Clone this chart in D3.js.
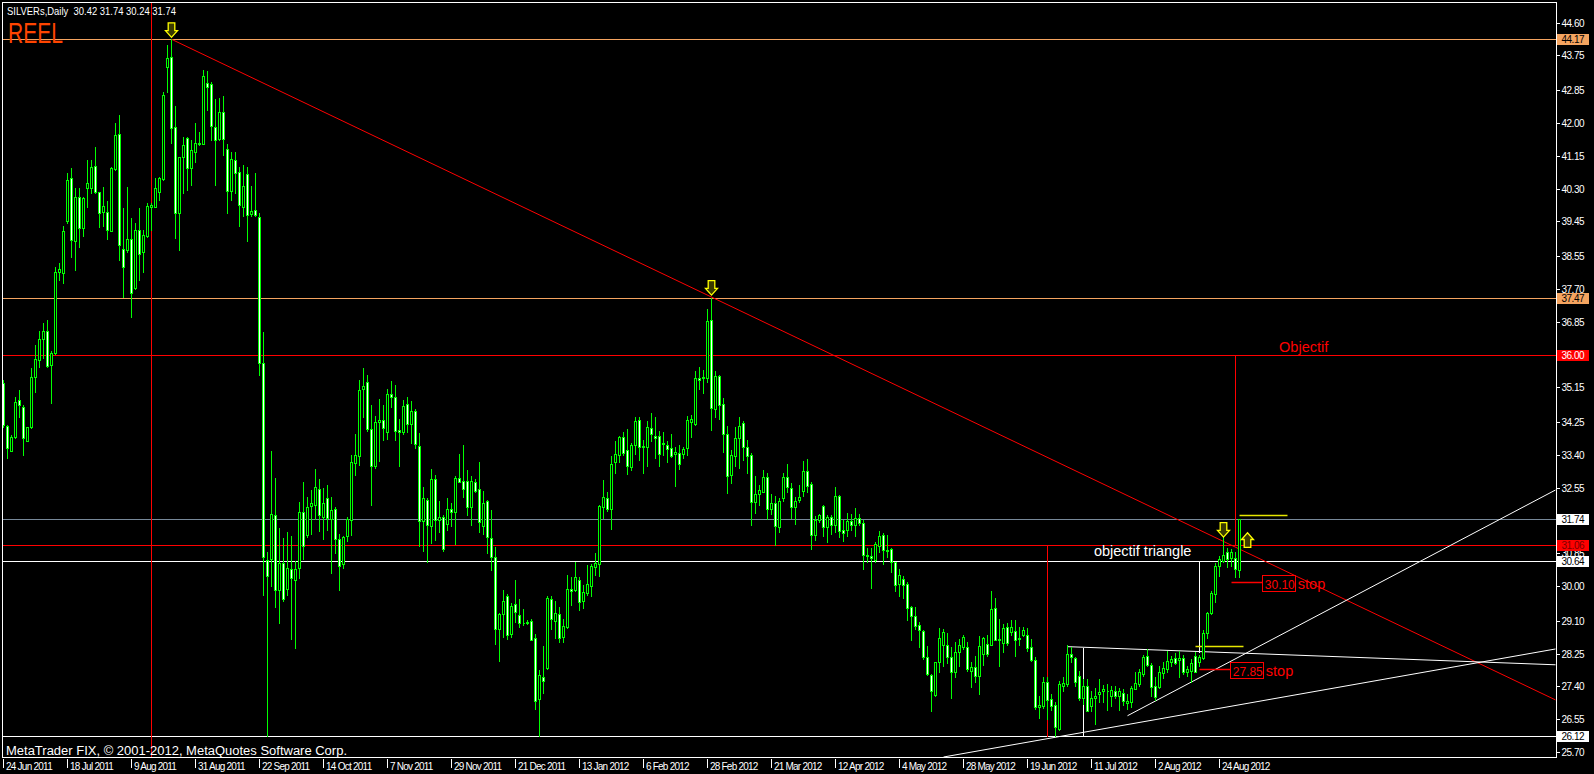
<!DOCTYPE html>
<html>
<head>
<meta charset="utf-8">
<script src="https://cdn.jsdelivr.net/npm/d3@7"></script>
<style>
    html, body { margin: 0; padding: 0; background: #000; overflow: hidden; }
    svg { display: block; }
    text { font-family: "Liberation Sans", Arial, sans-serif; }
</style>
</head>
<body>
<svg id="chart" width="1594" height="774"></svg>
<script>

// Daily bars, bar 0 = 24 Jun 2011, last bar = 31 Aug 2012
var opens = [
    35.26,34.16,33.51,33.87,34.82,34.63,33.77,34.12,35.41,35.86,
    36.40,36.60,35.73,36.05,38.15,38.12,39.45,40.57,38.95,40.08,
    39.29,40.31,40.31,40.89,40.20,39.69,39.70,39.21,40.80,41.72,
    38.73,38.71,38.99,37.72,39.23,38.67,39.06,39.82,39.83,40.20,
    40.55,43.46,43.70,41.89,39.66,41.11,41.61,40.83,41.26,41.49,
    41.46,43.03,43.01,41.89,41.58,42.28,41.32,40.25,41.03,40.72,
    39.83,40.68,39.64,39.75,39.56,35.79,30.68,30.70,31.85,29.89,
    30.60,29.93,30.43,30.16,30.48,31.92,31.32,32.08,32.10,32.52,
    31.80,32.27,31.75,32.00,31.22,30.56,31.30,31.72,33.19,33.37,
    35.10,35.30,34.08,33.11,34.26,34.30,34.00,34.97,34.90,34.05,
    34.00,34.73,34.20,34.53,33.63,31.68,32.24,31.55,32.77,31.70,
    31.78,31.62,32.00,31.92,32.79,32.72,32.73,32.05,32.71,32.51,
    31.55,32.21,31.25,30.75,28.90,29.27,29.73,28.77,29.54,29.25,
    29.05,29.04,29.10,28.65,27.07,27.64,27.87,29.66,29.10,29.27,
    28.67,28.93,29.93,29.90,30.16,29.62,29.81,30.01,30.49,30.57,
    32.04,32.27,32.01,33.22,33.40,33.86,33.52,33.09,33.66,34.30,
    33.61,33.60,34.10,33.89,33.89,33.67,33.66,33.57,33.42,33.45,
    33.42,33.57,34.24,34.19,35.38,35.39,35.38,36.90,34.58,35.45,
    34.71,33.94,32.88,33.38,33.83,34.22,33.60,33.40,32.17,32.38,
    32.45,32.82,32.00,32.15,31.54,32.27,32.82,32.53,32.04,32.23,
    32.46,32.97,32.65,31.33,31.70,32.07,31.52,31.78,31.57,32.33,
    31.45,31.46,31.69,31.58,31.76,31.63,30.81,30.79,30.68,31.05,
    31.32,30.94,30.96,30.62,30.05,30.18,30.05,29.45,29.22,28.98,
    28.83,28.16,27.70,27.19,28.03,28.46,28.47,28.16,27.77,28.28,
    28.41,28.41,27.81,27.89,27.66,28.24,28.50,28.47,29.42,28.59,
    28.52,28.93,28.80,28.83,28.63,28.74,28.72,28.41,28.09,26.86,
    26.89,27.51,27.08,26.92,26.30,27.42,27.46,28.24,28.13,27.66,
    27.09,27.40,26.89,27.11,27.20,27.29,27.29,27.14,27.27,27.16,
    27.23,26.97,26.99,27.33,27.46,27.72,28.18,27.96,27.40,27.38,
    27.75,27.85,28.03,28.13,28.09,28.13,27.78,27.81,28.20,28.03,
    28.13,28.79,29.30,29.80,30.51,30.66,30.88,30.72,30.72,30.42
];
var highs = [
    35.34,34.18,33.92,34.91,35.08,34.69,34.13,35.65,36.25,36.62,
    36.81,36.90,36.08,38.28,38.37,39.32,40.70,40.83,40.31,40.31,
    40.09,41.03,41.04,41.39,40.22,40.34,39.99,40.87,41.99,42.21,
    39.79,40.33,39.53,39.40,39.79,39.23,39.94,39.94,40.57,40.61,
    42.81,44.02,44.17,42.43,41.13,41.65,41.65,41.56,42.01,41.78,
    43.38,43.36,43.07,42.63,42.64,42.69,41.46,41.26,41.26,40.87,
    40.91,40.87,40.37,40.70,39.66,36.58,30.88,33.51,32.81,31.50,
    31.25,31.40,31.30,30.66,32.17,32.71,32.31,32.49,33.04,32.77,
    32.54,32.62,32.31,32.05,31.35,31.30,31.80,33.39,33.93,35.35,
    35.65,35.47,34.70,34.40,34.86,34.68,35.12,35.32,35.22,34.32,
    34.83,34.90,34.80,34.60,33.96,32.57,32.29,33.04,32.87,32.21,
    31.85,32.29,32.15,32.84,33.41,33.66,33.01,32.84,32.77,33.21,
    32.47,32.24,31.98,31.00,29.30,29.91,29.79,29.56,30.17,29.66,
    29.40,29.12,29.15,28.76,27.82,28.45,29.73,29.73,29.61,29.47,
    29.14,30.29,30.24,30.63,30.24,30.03,30.55,30.57,30.85,32.10,
    32.75,32.45,33.37,33.76,33.90,34.00,34.07,33.70,34.39,34.39,
    33.79,34.29,34.49,34.39,34.03,34.00,33.77,33.94,33.61,33.66,
    33.61,34.41,34.43,35.57,35.67,35.60,37.17,37.47,35.58,35.47,
    34.87,34.15,33.53,34.13,34.39,34.29,33.79,33.44,32.84,32.62,
    33.01,32.94,32.39,32.33,32.27,32.93,33.17,32.67,32.30,32.62,
    33.23,33.29,32.71,31.81,31.87,32.10,31.83,31.83,32.56,32.36,
    31.70,31.89,31.87,32.03,31.87,31.72,30.98,30.99,31.13,31.44,
    31.38,31.32,30.98,30.63,30.43,30.25,30.11,29.49,29.45,29.08,
    28.85,28.44,27.72,28.04,28.91,28.89,28.79,28.41,28.56,28.63,
    28.73,28.54,28.03,28.20,28.70,28.67,28.72,29.86,29.68,29.15,
    29.02,29.04,29.13,29.11,28.93,28.93,28.91,28.63,28.15,27.16,
    27.64,27.64,27.21,26.99,27.55,27.64,28.46,28.41,28.15,27.81,
    27.59,27.59,27.29,27.35,27.58,27.44,27.46,27.42,27.42,27.35,
    27.33,27.21,27.40,27.78,27.85,28.22,28.37,28.01,27.64,27.94,
    28.03,28.33,28.20,28.27,28.33,28.22,27.94,28.11,28.30,28.22,
    28.85,29.34,29.86,30.60,30.79,31.31,30.98,30.96,30.88,31.74
];
var lows = [
    34.13,33.31,33.49,33.83,34.39,33.40,33.75,34.09,35.04,35.69,
    35.90,35.69,34.74,36.02,37.93,37.85,39.40,38.54,38.19,38.80,
    39.06,39.82,40.18,40.18,39.30,39.32,38.99,39.19,40.78,38.45,
    37.50,38.67,36.97,37.69,37.93,38.15,39.04,39.23,39.82,40.01,
    40.53,42.81,41.48,39.01,38.71,40.18,40.27,40.40,41.00,41.43,
    41.46,42.34,41.56,40.40,41.56,41.17,39.66,40.01,40.18,39.32,
    39.58,38.93,39.59,39.59,35.47,29.76,26.12,30.01,29.46,29.04,
    29.61,29.76,28.62,28.40,30.21,30.69,31.28,31.35,31.75,31.42,
    31.22,31.45,30.33,30.85,29.91,30.46,31.18,31.32,32.87,33.14,
    34.38,34.03,32.09,33.07,33.24,33.78,33.80,34.63,33.78,33.11,
    33.93,33.98,33.70,33.58,31.05,30.90,30.63,31.12,31.20,31.40,
    30.92,31.45,31.55,31.10,32.69,32.31,31.85,31.58,32.44,31.40,
    31.35,30.85,30.41,28.50,28.07,28.67,28.64,28.67,29.08,28.95,
    28.99,29.02,28.59,26.81,26.12,27.22,27.84,28.88,28.66,28.56,
    28.56,28.91,29.51,29.86,29.38,29.42,29.77,29.73,30.29,30.26,
    31.76,31.95,31.47,32.92,33.22,33.40,32.90,33.01,33.42,33.27,
    32.94,33.11,33.77,33.31,33.11,33.40,33.22,33.34,32.59,33.03,
    33.31,33.40,33.87,34.17,35.12,35.01,35.30,34.05,34.37,34.32,
    33.48,32.42,32.68,33.11,33.05,33.27,32.94,31.57,31.90,32.10,
    32.45,31.73,31.87,31.07,31.41,32.21,32.45,31.76,31.61,32.17,
    32.33,32.45,30.96,31.20,31.65,31.31,31.15,31.35,31.41,31.26,
    31.18,31.31,31.46,31.31,31.58,30.44,30.62,29.94,30.62,30.89,
    30.56,30.75,30.37,29.86,29.75,29.68,29.11,28.59,28.89,28.41,
    28.11,27.70,26.75,27.16,27.78,27.94,28.01,27.09,27.64,27.94,
    28.37,27.81,27.38,27.52,27.20,27.96,28.20,28.46,28.59,27.94,
    28.28,28.47,28.72,28.18,28.46,28.70,28.33,28.07,26.82,26.57,
    26.83,26.56,26.80,26.12,26.28,27.29,27.42,28.03,27.42,27.06,
    26.95,26.75,26.77,26.43,26.99,26.99,26.80,26.90,27.09,26.80,
    26.92,26.82,26.86,27.32,27.42,27.68,27.92,27.14,27.06,27.35,
    27.61,27.78,27.94,27.98,27.64,27.72,27.66,27.51,27.77,27.92,
    28.11,28.65,29.28,29.58,30.27,30.63,30.49,30.53,30.23,30.24
];
var closes = [
    34.18,33.57,33.86,34.76,34.68,33.83,34.11,35.43,35.88,36.40,
    36.62,35.70,36.03,38.15,38.21,39.19,40.53,38.97,40.08,39.27,
    40.05,40.44,40.85,40.20,39.68,39.85,39.23,40.83,41.69,38.84,
    38.28,38.99,37.59,39.23,38.61,39.09,39.85,39.88,40.31,40.57,
    42.73,43.68,41.86,39.66,41.11,41.43,40.83,41.30,41.49,41.46,
    43.23,42.93,41.91,41.56,42.28,41.58,40.25,41.06,40.70,39.88,
    40.37,39.62,39.73,39.62,35.77,30.75,30.26,31.88,29.91,30.59,
    29.66,30.48,30.21,30.45,31.92,31.05,32.05,32.15,32.57,31.83,
    32.15,31.77,31.97,31.22,30.53,31.28,31.73,33.21,33.39,35.09,
    35.19,34.08,33.11,34.26,34.30,34.10,34.97,34.90,34.03,34.00,
    34.66,34.20,34.55,33.68,31.68,32.27,31.58,32.77,31.70,31.78,
    30.95,32.00,31.92,32.79,32.71,32.51,32.05,32.73,32.47,31.65,
    32.15,31.28,30.75,28.90,29.27,29.61,28.74,29.49,29.34,29.05,
    29.04,29.07,28.60,27.03,27.70,27.55,29.68,29.14,29.31,28.65,
    28.97,29.93,29.86,30.23,29.60,29.84,30.05,30.52,30.61,32.08,
    32.30,31.99,33.16,33.42,33.87,33.44,33.12,33.66,34.28,33.60,
    33.63,34.13,33.93,33.85,33.41,33.70,33.54,33.38,33.47,33.16,
    33.54,34.30,34.33,35.38,35.33,35.41,36.87,34.61,35.44,34.69,
    33.93,32.84,33.40,33.83,34.15,33.60,33.38,32.17,32.39,32.49,
    32.82,31.99,32.15,31.55,32.21,32.82,32.56,32.04,32.20,32.32,
    32.97,32.60,31.33,31.71,31.84,31.54,31.78,31.57,32.34,31.44,
    31.38,31.68,31.57,31.76,31.63,30.81,30.79,30.72,31.09,31.31,
    30.94,30.92,30.62,30.04,30.29,30.04,29.42,29.22,28.97,28.87,
    28.16,27.72,27.27,28.03,28.65,28.80,28.16,27.78,28.28,28.47,
    28.67,27.85,27.89,27.68,28.44,28.65,28.24,29.41,28.61,28.63,
    28.91,28.52,28.93,28.61,28.66,28.86,28.39,28.09,26.86,26.92,
    27.51,27.06,26.90,26.34,27.46,27.49,28.24,28.15,27.51,27.09,
    27.42,26.77,27.09,27.14,27.25,27.32,27.27,27.31,27.14,27.29,
    27.01,27.03,27.35,27.49,27.77,28.15,27.96,27.38,27.12,27.77,
    27.87,28.07,28.11,28.01,28.13,27.78,27.85,28.01,27.78,28.15,
    28.79,29.30,29.82,30.53,30.69,30.81,30.70,30.88,30.43,31.74
];

// Time axis labels (one every 16 bars)
var dateLabels = ["24 Jun 2011", "18 Jul 2011", "9 Aug 2011", "31 Aug 2011", "22 Sep 2011",
    "14 Oct 2011", "7 Nov 2011", "29 Nov 2011", "21 Dec 2011", "13 Jan 2012",
    "6 Feb 2012", "28 Feb 2012", "21 Mar 2012", "12 Apr 2012", "4 May 2012",
    "28 May 2012", "19 Jun 2012", "11 Jul 2012", "2 Aug 2012", "24 Aug 2012"];
var dateLabelBars = [0, 16, 32, 48, 64, 80, 96, 112, 128, 144, 160, 176, 192, 208, 224, 240, 256, 272, 288, 304];

// Price scale ticks
var priceTicks = [44.60, 43.75, 42.85, 42.00, 41.15, 40.30, 39.45, 38.55, 37.70, 36.85, 36.00,
    35.15, 34.25, 33.40, 32.55, 30.85, 30.00, 29.10, 28.25, 27.40, 26.55, 25.70];

// Horizontal levels (labelled on the price scale)
var levelPrices = [44.17, 37.47, 36.00, 31.74, 31.06, 30.64, 26.12];

// Vertical markers: bar, price from, price to
var vBars = [37, 261, 270, 299, 308];
var vFrom = [45.30, 31.06, 28.41, 30.64, 36.00];
var vTo = [25.50, 26.12, 26.12, 28.30, 31.06];

// Trend lines: two anchor points each (bar, price)
var trendBars = [[42, 177], [266, 388], [281, 388], [235, 388]];
var trendPrices = [[44.17, 37.49], [28.43, 27.96], [26.64, 32.49], [25.57, 28.37]];

// Short segments: yellow measure lines and red stop lines
var segPrices = [28.44, 31.84, 30.10, 27.85];
var segFrom = [298, 309, 307, 299];
var segTo = [310, 321, 314.7, 306.7];
var stopLabels = ["30.10", "27.85"];

// Arrow marks
var arrowBars = [42, 177, 305, 311];
var arrowPrices = [44.22, 37.54, 31.27, 31.38];
var arrowDirs = ["down", "down", "down", "up"];

var width = 1594, height = 774;
var lastBar = 388;

var svg = d3.select("#chart");

svg.append("rect")
    .attr("width", width)
    .attr("height", height)
    .attr("fill", "#000");

// Scales: 4px per bar, fixed price range of the chart window
var x = d3.scaleLinear()
    .domain([0, lastBar])
    .range([3.5, 3.5 + 4 * lastBar]);

var y = d3.scaleLinear()
    .domain([25.70, 44.60])
    .range([752, 22.7]);

function py(p) { return Math.round(y(p)) + 0.5; }

svg.append("clipPath")
    .attr("id", "plot")
    .append("rect")
        .attr("x", 3)
        .attr("y", 3)
        .attr("width", 1553)
        .attr("height", 754);

var plot = svg.append("g").attr("clip-path", "url(#plot)");

// Horizontal level lines
var levelLine = ["#f4a460", "#f4a460", "#ff0000", "#778899", "#ff0000", "#ffffff", "#ffffff"];
var levelBg = ["#f4a460", "#f4a460", "#ff0000", "#ffffff", "#ff0000", "#ffffff", "#ffffff"];
var levelFg = ["#000", "#000", "#fff", "#000", "#7a0000", "#000", "#000"];

plot.append("g").selectAll("line")
    .data(levelPrices)
    .enter()
    .append("line")
    .attr("x1", 3)
    .attr("x2", 1556)
    .attr("y1", function(d) { return py(d); })
    .attr("y2", function(d) { return py(d); })
    .attr("stroke", function(d, i) { return levelLine[i]; })
    .attr("shape-rendering", "crispEdges");

// Vertical markers
var vColors = ["#ff0000", "#ff0000", "#ffffff", "#ffffff", "#ff0000"];
plot.append("g").selectAll("line")
    .data(vBars)
    .enter()
    .append("line")
    .attr("x1", function(d) { return x(d); })
    .attr("x2", function(d) { return x(d); })
    .attr("y1", function(d, i) { return py(vFrom[i]); })
    .attr("y2", function(d, i) { return py(vTo[i]); })
    .attr("stroke", function(d, i) { return vColors[i]; })
    .attr("shape-rendering", "crispEdges");

// Trend lines (the first one is a ray running to the right edge)
var trendColors = ["#ff0000", "#ffffff", "#ffffff", "#ffffff"];
plot.append("g").selectAll("line")
    .data(trendBars)
    .enter()
    .append("line")
    .attr("x1", function(d) { return x(d[0]); })
    .attr("y1", function(d, i) { return y(trendPrices[i][0]); })
    .attr("x2", function(d) { return x(lastBar); })
    .attr("y2", function(d, i) {
        var p = trendPrices[i];
        var slope = (p[1] - p[0]) / (d[1] - d[0]);
        return y(p[0] + slope * (lastBar - d[0]));
    })
    .attr("stroke", function(d, i) { return trendColors[i]; })
    .attr("stroke-width", 1);

// Short segments
var segColors = ["#e6e600", "#e6e600", "#ff0000", "#ff0000"];
plot.append("g").selectAll("line")
    .data(segPrices)
    .enter()
    .append("line")
    .attr("x1", function(d, i) { return x(segFrom[i]); })
    .attr("x2", function(d, i) { return x(segTo[i]); })
    .attr("y1", function(d) { return py(d); })
    .attr("y2", function(d) { return py(d); })
    .attr("stroke", function(d, i) { return segColors[i]; })
    .attr("stroke-width", 1.5);

// Candles: wicks then bodies (black = up day, white = down day)
var bars = d3.range(opens.length);

plot.append("g").selectAll("line")
    .data(bars)
    .enter()
    .append("line")
    .attr("x1", function(d) { return x(d); })
    .attr("x2", function(d) { return x(d); })
    .attr("y1", function(d) { return Math.round(y(highs[d])); })
    .attr("y2", function(d) { return Math.round(y(lows[d])) + 1; })
    .attr("stroke", "#00ff00")
    .attr("shape-rendering", "crispEdges");

plot.append("g").selectAll("path")
    .data(bars)
    .enter()
    .append("path")
    .attr("d", function(d) {
        var t = py(Math.max(opens[d], closes[d]));
        var b = py(Math.min(opens[d], closes[d]));
        var l = x(d) - 1, r = x(d) + 1;
        return "M" + l + "," + t + "H" + r + "V" + b + "H" + l + "Z";
    })
    .attr("fill", function(d) { return closes[d] >= opens[d] ? "#000" : "#fff"; })
    .attr("stroke", "#00ff00")
    .attr("shape-rendering", "crispEdges");

// Arrows
plot.append("g").selectAll("path")
    .data(arrowBars)
    .enter()
    .append("path")
    .attr("d", function(d, i) {
        var cx = x(d), tip = y(arrowPrices[i]);
        var s = arrowDirs[i] == "down" ? -1 : 1;
        var back = tip + s * 14.5, neck = tip + s * 6.7;
        return "M" + (cx - 3.3) + "," + back + "H" + (cx + 3.3) + "V" + neck +
            "H" + (cx + 6) + "L" + cx + "," + tip + "L" + (cx - 6) + "," + neck +
            "H" + (cx - 3.3) + "Z";
    })
    .attr("fill", "#3a3a00")
    .attr("stroke", "#ffff00")
    .attr("stroke-width", 1.3);

// Stop labels at the end of the red segments
var stopG = plot.append("g");
stopLabels.forEach(function(s, k) {
    var i = k + 2;
    var bx = x(segTo[i]), by = py(segPrices[i]);
    stopG.append("rect")
        .attr("x", bx + 0.5)
        .attr("y", by - 7.5)
        .attr("width", 33)
        .attr("height", 16)
        .attr("fill", "#000")
        .attr("stroke", "#ff0000")
        .attr("shape-rendering", "crispEdges");
    stopG.append("text")
        .attr("x", bx + 2.5)
        .attr("y", by + 6)
        .attr("font-size", "13.5px")
        .attr("fill", "#ff0000")
        .attr("textLength", 30)
        .attr("lengthAdjust", "spacingAndGlyphs")
        .text(s);
    stopG.append("text")
        .attr("x", bx + 35.5)
        .attr("y", by + 6)
        .attr("font-size", "14.5px")
        .attr("fill", "#ff0000")
        .text("stop");
});

// Annotations
plot.append("text")
    .attr("x", x(318.9))
    .attr("y", y(36.06))
    .attr("font-size", "14.5px")
    .attr("fill", "#ff0000")
    .text("Objectif");

plot.append("text")
    .attr("x", x(272.6))
    .attr("y", y(30.78))
    .attr("font-size", "14.5px")
    .attr("fill", "#ffffff")
    .text("objectif triangle");

svg.append("text")
    .attr("x", 8)
    .attr("y", 43)
    .attr("font-size", "29px")
    .attr("fill", "#ff4500")
    .attr("textLength", 55)
    .attr("lengthAdjust", "spacingAndGlyphs")
    .text("REEL");

svg.append("text")
    .attr("x", 7)
    .attr("y", 14.5)
    .attr("font-size", "11.5px")
    .attr("fill", "#ffffff")
    .attr("textLength", 169)
    .attr("lengthAdjust", "spacingAndGlyphs")
    .attr("xml:space", "preserve")
    .text("SILVERs,Daily  30.42 31.74 30.24 31.74");

svg.append("text")
    .attr("x", 6)
    .attr("y", 755)
    .attr("font-size", "12px")
    .attr("fill", "#ffffff")
    .attr("textLength", 341)
    .attr("lengthAdjust", "spacingAndGlyphs")
    .text("MetaTrader FIX, \u00a9 2001-2012, MetaQuotes Software Corp.");

// Frame
svg.append("rect")
    .attr("x", 2.5)
    .attr("y", 2.5)
    .attr("width", 1554)
    .attr("height", 755)
    .attr("fill", "none")
    .attr("stroke", "#ffffff")
    .attr("shape-rendering", "crispEdges");

// Price scale
var yAxis = svg.append("g");
yAxis.selectAll("line")
    .data(priceTicks)
    .enter()
    .append("line")
    .attr("x1", 1557)
    .attr("x2", 1560)
    .attr("y1", function(d) { return py(d); })
    .attr("y2", function(d) { return py(d); })
    .attr("stroke", "#ffffff")
    .attr("shape-rendering", "crispEdges");

yAxis.selectAll("text")
    .data(priceTicks)
    .enter()
    .append("text")
    .attr("x", 1561.5)
    .attr("y", function(d) { return py(d) + 3.5; })
    .attr("font-size", "10px")
    .attr("fill", "#ffffff")
    .text(function(d) { return d.toFixed(2); })
    .each(function() { d3.select(this).attr("textLength", this.getComputedTextLength() * 0.92); });

// Level labels on the price scale
var lab = svg.append("g").selectAll("g")
    .data(levelPrices)
    .enter()
    .append("g");

lab.append("rect")
    .attr("x", 1557)
    .attr("y", function(d) { return py(d) - 5.5; })
    .attr("width", 32)
    .attr("height", 11)
    .attr("fill", function(d, i) { return levelBg[i]; });

lab.append("text")
    .attr("x", 1561.5)
    .attr("y", function(d) { return py(d) + 3.5; })
    .attr("font-size", "10px")
    .attr("fill", function(d, i) { return levelFg[i]; })
    .text(function(d) { return d.toFixed(2); })
    .each(function() { d3.select(this).attr("textLength", this.getComputedTextLength() * 0.92); });

// Time axis
var xAxis = svg.append("g");
xAxis.selectAll("line")
    .data(dateLabelBars)
    .enter()
    .append("line")
    .attr("x1", function(d) { return x(d); })
    .attr("x2", function(d) { return x(d); })
    .attr("y1", 759)
    .attr("y2", 768)
    .attr("stroke", "#ffffff")
    .attr("shape-rendering", "crispEdges");

xAxis.selectAll("text")
    .data(dateLabelBars)
    .enter()
    .append("text")
    .attr("x", function(d) { return x(d) + 2.5; })
    .attr("y", 770)
    .attr("font-size", "10px")
    .attr("fill", "#ffffff")
    .text(function(d, i) { return dateLabels[i]; })
    .each(function() { d3.select(this).attr("textLength", this.getComputedTextLength() * 0.86); });

</script>
</body>
</html>
